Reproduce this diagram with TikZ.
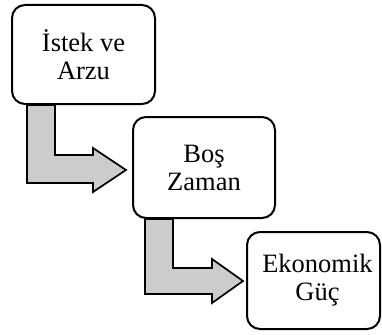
\documentclass[tikz,border=0pt]{standalone}
\usepackage{fontspec}
\setmainfont{Liberation Serif}
\usetikzlibrary{calc,backgrounds}
\begin{document}
\begin{tikzpicture}[x=1pt,y=-1pt,
  boxnode/.style={draw=black, line width=2pt, rounded corners=13pt, fill=white,
    align=center, inner sep=0pt, font=\fontsize{26.5}{28}\selectfont},
  bigarrow/.style={draw=black, line width=1.7pt, fill=black!20, line join=miter}]
\useasboundingbox (0,0) rectangle (382,334);
\node[boxnode, minimum width=143pt, minimum height=99pt] (b1) at (83.5,54.5) {İstek ve\\Arzu};
\node[boxnode, minimum width=142pt, minimum height=101pt] (b2) at (204,167.5) {Boş\\Zaman};
\node[boxnode, minimum width=133pt, minimum height=97pt] (b3) at (313.5,280.5) {\hspace*{8pt}Ekonomik\\\hspace*{8pt}Güç};
\begin{scope}[on background layer]
\draw[bigarrow] ($(b1.south west)+(16,0)$) -- ++(0,78) -- ++(66,0) -- ++(0,9)
  -- ++(33,-22) -- ++(-33,-22) -- ++(0,7) -- ++(-38,0) -- ++(0,-50) -- cycle;
\draw[bigarrow] ($(b2.south west)+(13,0)$) -- ++(0,75) -- ++(67,0) -- ++(0,9)
  -- ++(31,-22) -- ++(-31,-22) -- ++(0,9) -- ++(-39,0) -- ++(0,-49) -- cycle;
\end{scope}
\end{tikzpicture}
\end{document}
